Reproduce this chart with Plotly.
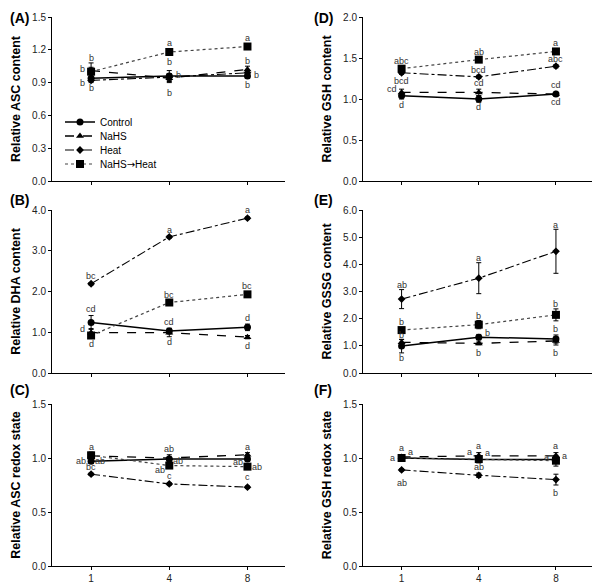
import plotly.graph_objects as go

categories = ["1", "4", "8"]
series_names = ["Control", "NaHS", "Heat", "NaHS→Heat"]

# ---- Panel A: Relative ASC content
asc_mean = {"Control": [0.94, 0.96, 0.96], "NaHS": [1.01, 0.94, 1.02],
            "Heat": [0.92, 0.95, 0.99], "NaHS→Heat": [1.00, 1.18, 1.23]}
asc_err = {"Control": [0.03, 0.05, 0.02], "NaHS": [0.03, 0.04, 0.03],
           "Heat": [0.02, 0.03, 0.02], "NaHS→Heat": [0.08, 0.02, 0.02]}
asc_letters = {"Control": ["b", "b", "b"], "NaHS": ["b", "b", "b"],
               "Heat": ["b", "b", "b"], "NaHS→Heat": ["b", "a", "a"]}

# ---- Panel D: Relative GSH content
gsh_mean = {"Control": [1.04, 1.00, 1.06], "NaHS": [1.08, 1.08, 1.06],
            "Heat": [1.32, 1.27, 1.40], "NaHS→Heat": [1.37, 1.48, 1.58]}
gsh_err = {"Control": [0.04, 0.04, 0.02], "NaHS": [0.04, 0.04, 0.02],
           "Heat": [0.02, 0.02, 0.02], "NaHS→Heat": [0.03, 0.02, 0.02]}
gsh_letters = {"Control": ["d", "d", "cd"], "NaHS": ["cd", "cd", "cd"],
               "Heat": ["bcd", "bcd", "abc"], "NaHS→Heat": ["abc", "ab", "a"]}

# ---- Panel B: Relative DHA content
dha_mean = {"Control": [1.24, 1.03, 1.12], "NaHS": [0.99, 0.99, 0.88],
            "Heat": [2.19, 3.34, 3.80], "NaHS→Heat": [0.92, 1.73, 1.93]}
dha_err = {"Control": [0.17, 0.07, 0.08], "NaHS": [0.10, 0.10, 0.04],
           "Heat": [0.03, 0.03, 0.03], "NaHS→Heat": [0.04, 0.04, 0.05]}
dha_letters = {"Control": ["cd", "cd", "d"], "NaHS": ["d", "d", "d"],
               "Heat": ["bc", "a", "a"], "NaHS→Heat": ["d", "bc", "bc"]}

# ---- Panel E: Relative GSSG content
gssg_mean = {"Control": [0.99, 1.32, 1.25], "NaHS": [1.13, 1.09, 1.18],
             "Heat": [2.72, 3.49, 4.48], "NaHS→Heat": [1.58, 1.78, 2.14]}
gssg_err = {"Control": [0.25, 0.10, 0.15], "NaHS": [0.10, 0.05, 0.15],
            "Heat": [0.35, 0.57, 0.81], "NaHS→Heat": [0.05, 0.15, 0.22]}
gssg_letters = {"Control": ["b", "b", "b"], "NaHS": ["b", "b", "b"],
                "Heat": ["ab", "a", "a"], "NaHS→Heat": ["b", "b", "b"]}

# ---- Panel C: Relative ASC redox state
ascr_mean = {"Control": [0.97, 0.99, 0.99], "NaHS": [1.02, 1.00, 1.03],
             "Heat": [0.85, 0.76, 0.73], "NaHS→Heat": [1.025, 0.93, 0.92]}
ascr_err = {"Control": [0.02, 0.02, 0.02], "NaHS": [0.02, 0.03, 0.02],
            "Heat": [0.01, 0.01, 0.01], "NaHS→Heat": [0.03, 0.02, 0.02]}
ascr_letters = {"Control": ["ab", "ab", "ab"], "NaHS": ["ab", "ab", "a"],
                "Heat": ["bc", "c", "c"], "NaHS→Heat": ["a", "ab", "ab"]}

# ---- Panel F: Relative GSH redox state
gshr_mean = {"Control": [1.00, 0.985, 0.985], "NaHS": [1.01, 1.02, 1.02],
             "Heat": [0.89, 0.84, 0.80], "NaHS→Heat": [1.00, 0.99, 0.975]}
gshr_err = {"Control": [0.02, 0.03, 0.03], "NaHS": [0.02, 0.03, 0.03],
            "Heat": [0.01, 0.02, 0.05], "NaHS→Heat": [0.02, 0.03, 0.05]}
gshr_letters = {"Control": ["a", "a", "a"], "NaHS": ["a", "a", "a"],
                "Heat": ["ab", "ab", "b"], "NaHS→Heat": ["a", "a", "a"]}

# ---- letter placement offsets (px): (dx, dy) per x position
asc_off = {"Control": [(0, -10), (0, 14), (0, -9)], "NaHS": [(-9, 2), (0, -15), (0, 8)],
           "Heat": [(-9, -3), (9, 2), (9, -2)], "NaHS→Heat": [(0, 14), (0, 9), (0, 9)]}
gsh_off = {"Control": [(0, -9), (0, -8), (0, -8)], "NaHS": [(-10, 3), (0, 9), (0, 9)],
           "Heat": [(0, -8), (0, 7), (0, 7)], "NaHS→Heat": [(0, 8), (0, 8), (0, 8)]}
dha_off = {"Control": [(0, 13), (0, 9), (0, 9)], "NaHS": [(-9, 4), (0, -9), (0, -9)],
           "Heat": [(0, 8), (0, 7), (0, 8)], "NaHS→Heat": [(0, -8), (0, 8), (0, 8)]}
gssg_off = {"Control": [(0, -12), (9, 4), (0, 10)], "NaHS": [(0, 7), (0, -10), (0, -12)],
            "Heat": [(0, 14), (0, 20), (0, 26)], "NaHS→Heat": [(0, 8), (0, 9), (0, 11)]}
ascr_off = {"Control": [(-10, 0), (9, -2), (-9, -3)], "NaHS": [(9, -5), (0, 9), (0, 8)],
            "Heat": [(0, 7), (0, 8), (0, 10)], "NaHS→Heat": [(0, 8), (-9, -4), (10, 0)]}
gshr_off = {"Control": [(-9, 0), (9, 7), (9, 4)], "NaHS": [(9, 5), (0, 10), (0, 10)],
            "Heat": [(0, -13), (0, 8), (0, -13)], "NaHS→Heat": [(0, 10), (-9, 7), (-9, 4)]}

styles = {
    "Control": dict(dash="solid", width=1.5, color="black", symbol="circle", size=7),
    "NaHS": dict(dash="dash", width=1.3, color="black", symbol="triangle-up", size=7),
    "Heat": dict(dash="dashdot", width=1.1, color="black", symbol="diamond", size=6),
    "NaHS→Heat": dict(dash="dot", width=1.2, color="#444444", symbol="square", size=8),
}

panels = [
    ("", asc_mean, asc_err, asc_letters, asc_off, "Relative ASC content", [0, 1.5], 0.3, "(A)", "L", 0),
    ("2", gsh_mean, gsh_err, gsh_letters, gsh_off, "Relative GSH content", [0, 2.0], 0.5, "(D)", "R", 0),
    ("3", dha_mean, dha_err, dha_letters, dha_off, "Relative DHA content", [0, 4.0], 1.0, "(B)", "L", 1),
    ("4", gssg_mean, gssg_err, gssg_letters, gssg_off, "Relative GSSG content", [0, 6.0], 1.0, "(E)", "R", 1),
    ("5", ascr_mean, ascr_err, ascr_letters, ascr_off, "Relative ASC redox state", [0, 1.5], 0.5, "(C)", "L", 2),
    ("6", gshr_mean, gshr_err, gshr_letters, gshr_off, "Relative GSH redox state", [0, 1.5], 0.5, "(F)", "R", 2),
]

W, H = 600, 586
O = 8  # page body margin offset
xdoms = {"L": [(52 - O) / W, (285 - O) / W], "R": [(363 - O) / W, (593 - O) / W]}
ypx = [(17, 181), (210, 373), (404, 566)]
ydoms = [[1 - (b - O) / H, 1 - (t - O) / H] for t, b in ypx]

legend_ids = ["legend", "legend2", "legend3", "legend4"]
legend_centers_px = [122, 136, 150, 164]


def display_name(name):
    # render the arrow with a font whose arrow glyph is full-size
    return name.replace("→", "<span style='font-family:DejaVu Sans'>→</span>")


fig = go.Figure()
annotations = []
layout = {}
xpos = list(range(len(categories)))

for i, (sfx, means, errs, letters, offs, title, yr, dt, lab, col, row) in enumerate(panels):
    xa, ya = "x" + sfx, "y" + sfx
    for k, name in enumerate(series_names):
        st = styles[name]
        fig.add_trace(go.Scatter(
            x=xpos, y=means[name], xaxis=xa, yaxis=ya, name=display_name(name),
            mode="lines+markers", legendgroup=name, showlegend=(i == 0),
            legend=legend_ids[k],
            line=dict(color=st["color"], width=st["width"], dash=st["dash"]),
            marker=dict(symbol=st["symbol"], size=st["size"], color="black"),
            error_y=dict(type="data", array=errs[name], color="black", thickness=1, width=2.5),
        ))
        for j, txt in enumerate(letters[name]):
            dx, dy = offs[name][j]
            annotations.append(dict(x=xpos[j], y=means[name][j], xref=xa, yref=ya, text=txt,
                                    showarrow=False, xshift=dx, yshift=dy,
                                    font=dict(size=9, color="#333333", family="Arial")))
    bottom = row == 2
    layout["xaxis" + sfx] = dict(domain=xdoms[col], anchor=ya, range=[-0.5, 2.48],
                                 tickvals=xpos, ticktext=categories if bottom else ["", "", ""],
                                 showline=True, linecolor="black", linewidth=1, ticks="outside",
                                 ticklen=3, tickcolor="black", showgrid=False, zeroline=False,
                                 automargin=False,
                                 tickfont=dict(size=10, color="#222222", family="Arial"))
    layout["yaxis" + sfx] = dict(domain=ydoms[row], anchor=xa, range=yr, dtick=dt, tick0=0,
                                 tickformat=".1f", showline=True, linecolor="black", linewidth=1,
                                 ticks="outside", ticklen=3, tickcolor="black", showgrid=False,
                                 zeroline=False, automargin=False,
                                 tickfont=dict(size=10, color="#222222", family="Arial"),
                                 title=dict(text=title, standoff=8,
                                            font=dict(size=12.5, color="black", family="Arial", weight="bold")))
    lx = 0 if col == "L" else (312 - O) / W
    ly = [1 - 0 / H, 1 - (190 - O) / H, 1 - (380 - O) / H][row]
    annotations.append(dict(x=lx, y=ly, xref="paper", yref="paper", text="<b>" + lab + "</b>",
                            showarrow=False, xanchor="left", yanchor="top",
                            font=dict(size=14, color="black", family="Arial")))

for lid, cy in zip(legend_ids, legend_centers_px):
    layout[lid] = dict(x=(60 - O) / W, y=1 - (cy - O) / H, xanchor="left", yanchor="middle",
                       bgcolor="rgba(0,0,0,0)",
                       font=dict(size=10, family="Liberation Sans, DejaVu Sans", color="black"),
                       itemwidth=30, borderwidth=0)

fig.update_layout(
    template="none",
    width=W, height=H, margin=dict(l=0, r=0, t=0, b=0, pad=0),
    paper_bgcolor="white", plot_bgcolor="white",
    font=dict(family="Arial", color="#222222"),
    annotations=annotations,
    **layout,
)

fig.write_html("out.html")
